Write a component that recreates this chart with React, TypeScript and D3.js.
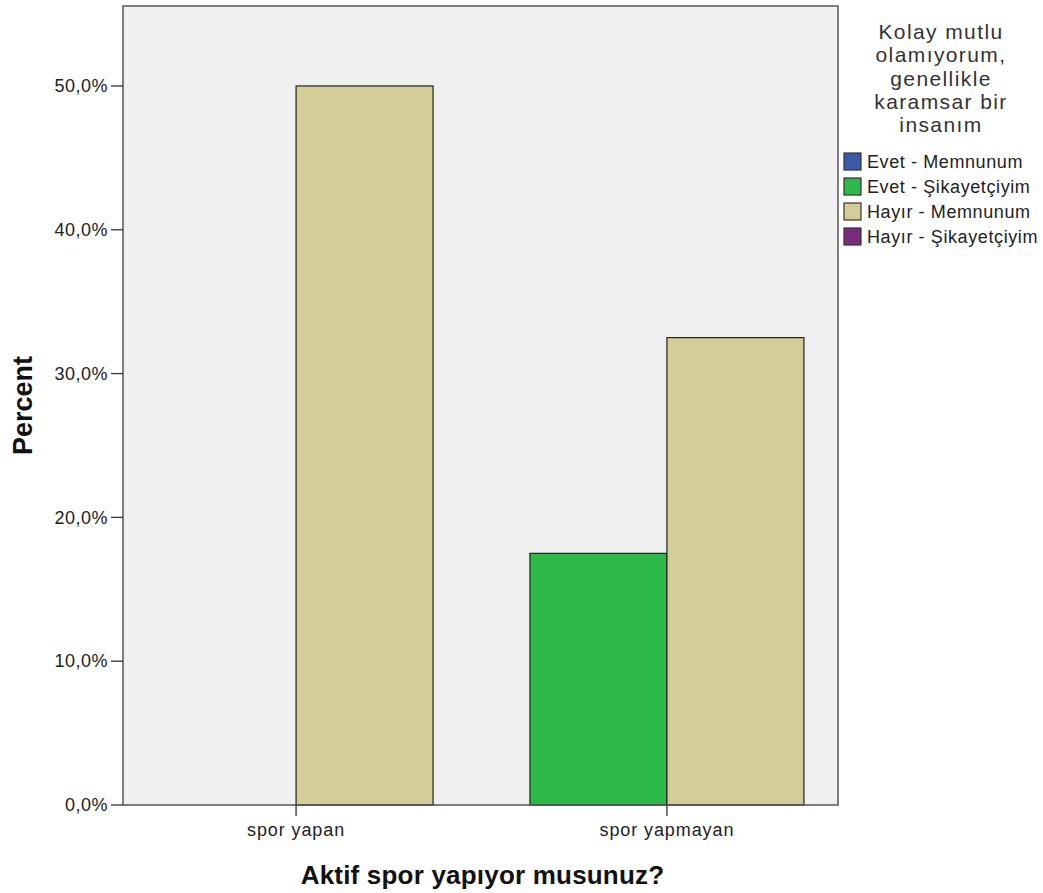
import React from "react";
import * as d3 from "d3";

const categories = ["spor yapan", "spor yapmayan"];
const series = ["Evet - Şikayetçiyim", "Hayır - Memnunum"];
const valuesEvetSikayet = [0, 17.5];
const valuesHayirMemnun = [50, 32.5];
const yTicks = [0, 10, 20, 30, 40, 50];
const legendItems = ["Evet - Memnunum", "Evet - Şikayetçiyim", "Hayır - Memnunum", "Hayır - Şikayetçiyim"];
const legendColors = ["#3b5ba8", "#2db84a", "#d3ce97", "#7a2b7c"];
const seriesColors = ["#2db84a", "#d3ce97"];
const legendTitle = ["Kolay mutlu", "olamıyorum,", "genellikle", "karamsar bir", "insanım"];

const W = 1043, H = 893;
const L = 123, R = 838, T = 6, B = 805;
const FONT = "'Liberation Sans', Arial, sans-serif";

export default function App() {
  const y = d3.scaleLinear().domain([0, 55.56]).range([B, T]);
  const x = d3.scalePoint<string>().domain(categories).range([L + 1, R + 1]).padding(0.464);
  const barW = 137;
  const sub = d3.scaleBand<string>().domain(series).range([-barW, barW]);
  const data = [valuesEvetSikayet, valuesHayirMemnun];
  const fmt = (v: number) => v.toFixed(1).replace(".", ",") + "%";

  return (
    <svg width={W} height={H} style={{ position: "absolute", left: 0, top: 0, background: "#fff" }}>
      <rect x={L} y={T} width={R - L} height={B - T} fill="#f0f0f0" />
      {series.map((s, si) =>
        categories.map((c, ci) => {
          const v = data[si][ci];
          if (v <= 0) return null;
          const x0 = (x(c) as number) + (sub(s) as number);
          return (
            <rect key={s + c} x={x0} y={y(v)} width={sub.bandwidth()} height={B - y(v)}
              fill={seriesColors[si]} stroke="#222" strokeWidth={1.2} />
          );
        })
      )}
      <rect x={L} y={T} width={R - L} height={B - T} fill="none" stroke="#555" strokeWidth={1.5} />
      {yTicks.map((t) => (
        <g key={t}>
          <line x1={L - 12} x2={L} y1={y(t)} y2={y(t)} stroke="#333" strokeWidth={1.3} />
          <text x={L - 15} y={y(t)} dy="0.35em" textAnchor="end" fontFamily={FONT} fontSize={18}
            letterSpacing={0.5} fill="#222">{fmt(t)}</text>
        </g>
      ))}
      {categories.map((c) => (
        <g key={c}>
          <line x1={x(c)} x2={x(c)} y1={B} y2={B + 11} stroke="#333" strokeWidth={1.3} />
          <text x={x(c)} y={836} textAnchor="middle" fontFamily={FONT} fontSize={18}
            letterSpacing={0.9} fill="#222">{c}</text>
        </g>
      ))}
      <text x={(L + R) / 2 + 2} y={884} textAnchor="middle" fontFamily={FONT} fontSize={26}
        fontWeight="bold" letterSpacing={0.2} fill="#111">Aktif spor yapıyor musunuz?</text>
      <text transform={`translate(32, ${(T + B) / 2}) rotate(-90)`} textAnchor="middle"
        fontFamily={FONT} fontSize={27} fontWeight="bold" fill="#111">Percent</text>
      {legendTitle.map((l, i) => (
        <text key={l} x={941} y={39 + i * 23.3} textAnchor="middle" fontFamily={FONT} fontSize={21}
          letterSpacing={1.4} fill="#333">{l}</text>
      ))}
      {legendItems.map((l, i) => (
        <g key={l}>
          <rect x={844} y={153 + i * 25} width={17} height={17} fill={legendColors[i]} stroke="#333" strokeWidth={1.2} />
          <text x={867} y={161.5 + i * 25} dy="0.35em" fontFamily={FONT} fontSize={18}
            letterSpacing={0.6} fill="#222">{l}</text>
        </g>
      ))}
    </svg>
  );
}
